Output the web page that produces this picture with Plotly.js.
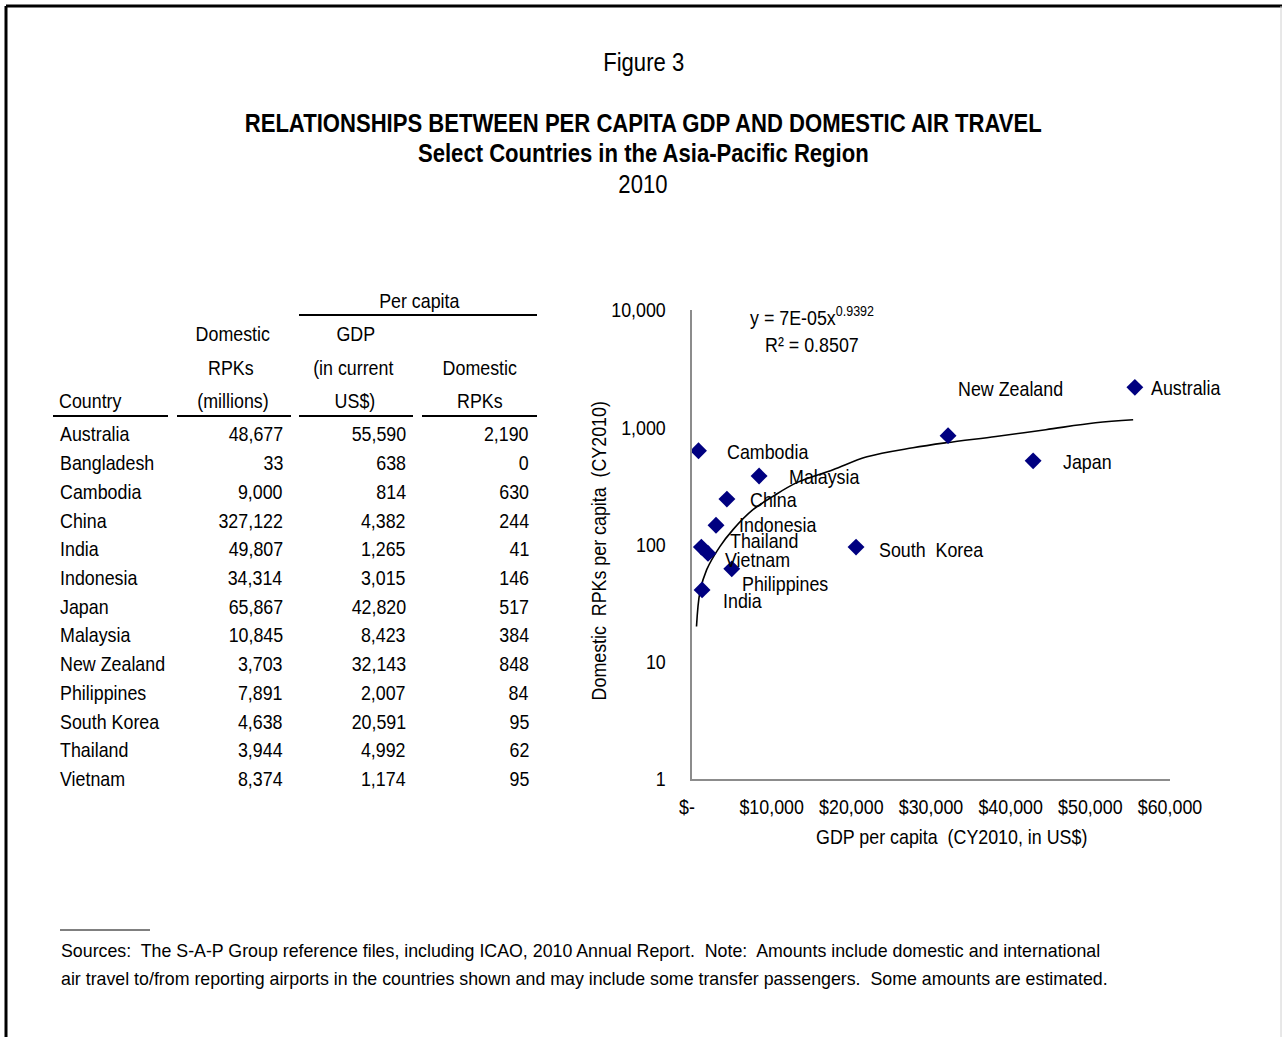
<!DOCTYPE html>
<html><head><meta charset="utf-8">
<script src="https://cdn.plot.ly/plotly-3.0.1.min.js"></script>
<style>html,body{margin:0;padding:0;background:#fff}#chart{width:1282px;height:1037px}</style>
</head><body><div id="chart"></div>
<script>
// ---------- DATA ----------
const countries = ["Australia","Bangladesh","Cambodia","China","India","Indonesia","Japan","Malaysia","New Zealand","Philippines","South Korea","Thailand","Vietnam"];
const rpkMillions = [48677,33,9000,327122,49807,34314,65867,10845,3703,7891,4638,3944,8374];
const gdpPerCapita = [55590,638,814,4382,1265,3015,42820,8423,32143,2007,20591,4992,1174];
const rpkPerCapita = [2190,0,630,244,41,146,517,384,848,84,95,62,95];
// trend curve
const trendGdp = [565,1000,1845,3500,5150,7650,10150,13150,17700,21960,27740,31900,38150,44400,50650,55375];
const trendRpk = [20,39.5,61,96,134,198,257,337,434,560,669,738,835,953,1091,1159];
const xTickVals = [0,10000,20000,30000,40000,50000,60000];
const xTickText = ["$-\u00a0\u00a0","$10,000","$20,000","$30,000","$40,000","$50,000","$60,000"];
const yTickVals = [1,10,100,1000,10000];
const yTickText = ["1","10","100","1,000","10,000"];
const trendEquation = "y = 7E-05x<sup>0.9392</sup>";
const trendR2 = "R² = 0.8507";

// ---------- LAYOUT HELPERS ----------
const W=1282,H=1037;
const px=x=>x/W, py=y=>1-y/H;
const FONT='"Liberation Sans Narrow","Arial Narrow","Liberation Sans",Arial,sans-serif';
const NARROW=0.85;   // horizontal condensing to mimic a narrow face
const fmt=v=>v.toLocaleString('en-US');
const annotations=[];
const annScale=[];
function txt(text,x,y,opts={},scale){
  const o=Object.assign({text:text,x:px(x),y:py(y),xref:'paper',yref:'paper',showarrow:false,
    xanchor:'center',yanchor:'middle',font:{family:FONT,size:21,color:'#000'}},opts);
  annotations.push(o); annScale.push(scale===undefined?NARROW:scale);
}
const shapes=[];
function line(x0,y0,x1,y1,w,c){shapes.push({type:'line',xref:'paper',yref:'paper',x0:px(x0),y0:py(y0),x1:px(x1),y1:py(y1),line:{color:c||'#000',width:w||2}});}

// titles
const TF={family:FONT,size:26,color:'#000'};
txt('Figure 3',643,62,{font:TF});
txt('<b>RELATIONSHIPS BETWEEN PER CAPITA GDP AND DOMESTIC AIR TRAVEL</b>',644,123,{font:TF});
txt('<b>Select Countries in the Asia-Pacific Region</b>',644,153,{font:TF});
txt('2010',643,184,{font:TF});

// table headers
txt('Per capita',419,300);
txt('Domestic',233,333); txt('GDP',356,333);
txt('RPKs',231,367); txt('(in current',354,367); txt('Domestic',480,367);
txt('Country',57,401,{xanchor:'left'}); txt('(millions)',233,401); txt('US$)',355,401); txt('RPKs',480,401);
line(299,315,537,315,2);
line(53,416,168,416,2); line(177,416,291,416,2); line(299,416,413,416,2); line(422,416,537,416,2);

// table rows
const rowY0=434, rowStep=28.7;
countries.forEach((c,i)=>{
  const y=rowY0+i*rowStep;
  txt(c,58,y,{xanchor:'left'});
  txt(fmt(rpkMillions[i]),285,y,{xanchor:'right'});
  txt(fmt(gdpPerCapita[i]),408,y,{xanchor:'right'});
  txt(fmt(rpkPerCapita[i]),531,y,{xanchor:'right'});
});

// axis titles & trend equation
txt('Domestic\u00a0 RPKs per capita\u00a0 (CY2010)',598,551,{textangle:-90});
txt('GDP per capita\u00a0 (CY2010, in US$)',951,836);
txt(trendEquation,748,316,{xanchor:'left'});
txt(trendR2,763,344,{xanchor:'left'});

// footnote
const FF={family:FONT,size:17.8,color:'#000'};
line(60,930,150,930,1);
txt('Sources:\u00a0 The S-A-P Group reference files, including ICAO, 2010 Annual Report.\u00a0 Note:\u00a0 Amounts include domestic and international',59,951,{xanchor:'left',font:FF},1);
txt('air travel to/from reporting airports in the countries shown and may include some transfer passengers.\u00a0 Some amounts are estimated.',59,979,{xanchor:'left',font:FF},1);

// frame
line(6,6,1282,6,3);
line(6,6,6,1037,3);
line(1281,6,1281,1037,1,'#d0d0d0');

// point labels (offsets in px from each marker)
const labelOffset = {
  "Australia":[14,0],"Cambodia":[27,-1],"China":[21,0],"India":[19,-11],"Indonesia":[21,1],
  "Japan":[28,-1],"Malaysia":[28,-1],"New Zealand":[8,47],"Philippines":[32,-30],
  "South Korea":[21,-2],"Thailand":[-4,28],"Vietnam":[22,-12]
};
countries.forEach((c,i)=>{
  if(rpkPerCapita[i]<=0) return;
  const off=labelOffset[c]||[15,0];
  annotations.push({text:c==='South Korea'?'South\u00a0 Korea':c,x:gdpPerCapita[i],y:Math.log10(rpkPerCapita[i]),xref:'x',yref:'y',
    showarrow:false,xanchor:'left',yanchor:'middle',xshift:off[0],yshift:off[1],
    font:{family:FONT,size:21,color:'#000'}});
  annScale.push(NARROW);
});

const traces=[
  {type:'scatter',mode:'lines',x:trendGdp,y:trendRpk,line:{color:'#000',width:1.6,shape:'spline',smoothing:1},hoverinfo:'skip'},
  {type:'scatter',mode:'markers',x:gdpPerCapita,y:rpkPerCapita,marker:{symbol:'diamond',size:13,color:'#000080'},text:countries}
];

const layout={
  width:W,height:H,margin:{l:0,r:0,t:0,b:0},showlegend:false,
  paper_bgcolor:'#fff',plot_bgcolor:'rgba(0,0,0,0)',
  font:{family:FONT,size:21,color:'#000'},
  xaxis:{domain:[px(692),px(1170)],range:[0,60000],tickmode:'array',tickvals:xTickVals,ticktext:xTickText,
    showgrid:false,zeroline:false,showline:true,linecolor:'#8c8c8c',linewidth:2,
    ticks:'outside',ticklen:8,tickcolor:'rgba(0,0,0,0)',tickfont:{family:FONT,size:21,color:'#000'},anchor:'y'},
  yaxis:{domain:[py(779),py(310)],type:'log',range:[0,4],tickmode:'array',tickvals:yTickVals,ticktext:yTickText,
    showgrid:false,zeroline:false,showline:true,linecolor:'#8c8c8c',linewidth:2,
    ticks:'outside',ticklen:20,tickcolor:'rgba(0,0,0,0)',tickfont:{family:FONT,size:21,color:'#000'},anchor:'x'},
  annotations:annotations,shapes:shapes
};

function condense(el,s,anchor){
  if(!el||s===1) return;
  const bb=el.getBBox();
  const pivot=anchor==='left'?bb.x:(anchor==='right'?bb.x+bb.width:bb.x+bb.width/2);
  const prev=el.getAttribute('transform')||'';
  el.setAttribute('transform',(prev+' translate('+pivot+',0) scale('+s+',1) translate('+(-pivot)+',0)').trim());
}
Plotly.newPlot('chart',traces,layout,{staticPlot:true,displayModeBar:false}).then(gd=>{
  gd.querySelectorAll('g.annotation').forEach(g=>{
    const i=+g.getAttribute('data-index');
    const a=annotations[i]; if(!a) return;
    condense(g.querySelector('text.annotation-text'),annScale[i],a.xanchor);
  });
  gd.querySelectorAll('g.xtick text').forEach(t=>condense(t,NARROW,'center'));
  gd.querySelectorAll('g.ytick text').forEach(t=>condense(t,NARROW,'right'));
});
</script></body></html>
